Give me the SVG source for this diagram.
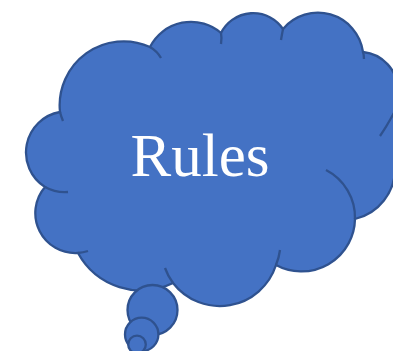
<svg xmlns="http://www.w3.org/2000/svg" width="393" height="351" viewBox="0 0 393 351">
  <style>
    .shape { fill: #4472C4; stroke: #2F528F; stroke-width: 2.3; }
    .stub { fill: none; stroke: #2F528F; stroke-width: 2.3; }
    .label { font-family: "Liberation Serif", "Times New Roman", serif; font-size: 61px; fill: #FFFFFF; text-anchor: middle; }
  </style>
  <rect width="393" height="351" fill="#FFFFFF"/>
  <g id="cloud">
    <path class="shape" d="M45,187 A41,41 0 0 1 60,112 A64,64 0 0 1 150,47 A46,46 0 0 1 221,33 A36,36 0 0 1 283,29 A45.5,45.5 0 0 1 363,52 A39,39 0 0 1 398,90 L430,90 L430,168 L395,168 A52,52 0 0 1 355,219 A53.5,53.5 0 0 1 276,265 A59,59 0 0 1 173,283 A72,72 0 0 1 78,253 A40,40 0 0 1 45,187 Z"/>
    <path class="stub" d="M45,187 A41,41 0 0 0 68,192"/>
    <path class="stub" d="M60,112 Q61,116 63,121"/>
    <path class="stub" d="M150,47 Q157,51 161,58"/>
    <path class="stub" d="M221,33 Q222,38 221,44"/>
    <path class="stub" d="M283,29 Q282,34 281,40"/>
    <path class="stub" d="M363,52 Q364,55 364,59"/>
    <path class="stub" d="M380,136 Q387,126 395,111"/>
    <path class="stub" d="M326,170 A53.5,53.5 0 0 1 355,219"/>
    <path class="stub" d="M276,265 A59,59 0 0 0 280,250"/>
    <path class="stub" d="M173,283 A59,59 0 0 1 165,268"/>
    <path class="stub" d="M78,253 A40,40 0 0 0 88,251"/>
    <text class="label" x="200" y="176">Rules</text>
  </g>
  <g id="tail">
    <circle class="shape" cx="152.5" cy="310" r="25"/>
    <circle class="shape" cx="141.7" cy="334.4" r="16.7"/>
    <circle class="shape" cx="137" cy="344.5" r="8.8"/>
  </g>
</svg>
